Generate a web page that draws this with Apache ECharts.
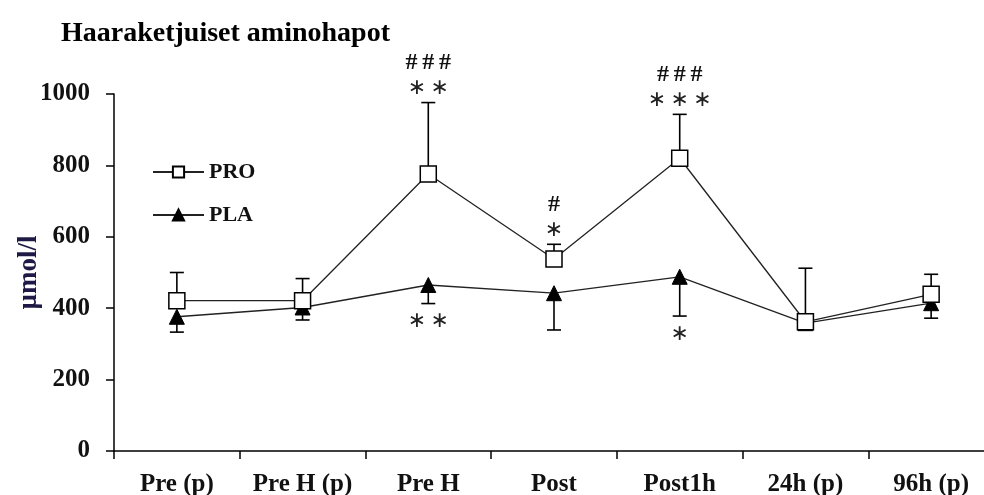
<!DOCTYPE html>
<html><head><meta charset="utf-8">
<script src="https://cdn.jsdelivr.net/npm/echarts@6/dist/echarts.min.js"></script>
<style>html,body{margin:0;padding:0;background:#fff}#c{width:984px;height:495px}</style>
</head><body><div id="c"></div>
<script>
var categories = ['Pre (p)', 'Pre H (p)', 'Pre H', 'Post', 'Post1h', '24h (p)', '96h (p)'];
var proMean = [421, 421, 776, 538, 820, 362, 439];
var proSD   = [79, 62, 200, 41, 123, 150, 56];
var plaMean = [376, 402, 465, 442, 488, 358, 414];
var plaSD   = [43, 35, 52, 103, 110, 0, 42];
var proStars = ['', '', '∗∗', '∗', '∗∗∗', '', ''];
var proHash  = ['', '', '###', '#', '###', '', ''];
var plaStars = ['', '', '∗∗', '', '∗', '', ''];
var yTicks = [0, 200, 400, 600, 800, 1000];

var SERIF = '"Liberation Serif","Times New Roman",serif';

function spaced(s) { return s.split('').join('\u2009'); }

function errData(mean, sd) {
  return categories.map(function (c, i) { return [i, mean[i], sd[i]]; });
}

function makeErr(dir, stars, hash) {
  return function (params, api) {
    var i = api.value(0), m = api.value(1), sd = api.value(2);
    var p0 = api.coord([i, m]);
    var p1 = api.coord([i, m + dir * sd]);
    var s = stars[i] || '', h = hash ? (hash[i] || '') : '';
    var children = [];
    var st = { stroke: '#000', lineWidth: 1.6 };
    if (sd > 0) {
      children.push({ type: 'line', shape: { x1: p0[0], y1: p0[1], x2: p1[0], y2: p1[1] }, style: st });
      children.push({ type: 'line', shape: { x1: p1[0] - 7, y1: p1[1], x2: p1[0] + 7, y2: p1[1] }, style: st });
    }
    if (s) {
      children.push({ type: 'text', x: p1[0], y: p1[1] - dir * (dir > 0 ? 14 : 18),
        style: { text: spaced(s), fill: '#222', font: '22px "DejaVu Sans"', align: 'center', verticalAlign: 'middle' } });
    }
    if (h) {
      children.push({ type: 'text', x: p1[0], y: p1[1] - dir * 40,
        style: { text: spaced(h), fill: '#111', font: 'bold 24px ' + SERIF, align: 'center', verticalAlign: 'middle' } });
    }
    return { type: 'group', children: children };
  };
}

var chart = echarts.init(document.getElementById('c'), null, { renderer: 'canvas' });
chart.setOption({
  animation: false,
  backgroundColor: '#fff',
  title: { text: 'Haaraketjuiset aminohapot', left: 56, top: 15,
    textStyle: { fontFamily: SERIF, fontWeight: 'bold', fontSize: 28, color: '#000' } },
  legend: {
    orient: 'vertical', left: 152, top: 161, padding: 0, itemGap: 21,
    itemWidth: 51, itemHeight: 14,
    textStyle: { fontFamily: SERIF, fontWeight: 'bold', fontSize: 22, color: '#111', padding: [0, 0, 0, 0] },
    data: ['PRO', 'PLA']
  },
  grid: { left: 114, top: 94, width: 880, height: 357, containLabel: false, outerBoundsMode: 'none' },
  xAxis: {
    type: 'category', data: categories, boundaryGap: true,
    axisLine: { lineStyle: { color: '#000', width: 1.5 } },
    axisTick: { show: true, length: 8, inside: false, interval: 0, lineStyle: { color: '#000', width: 1.5 } },
    axisLabel: { interval: 0, hideOverlap: false, margin: 21, fontFamily: SERIF, fontWeight: 'bold', fontSize: 25, color: '#111' },
    splitLine: { show: false }
  },
  yAxis: {
    type: 'value', min: 0, max: 1000, interval: 200,
    name: 'µmol/l', nameLocation: 'middle', nameGap: 71, nameRotate: 90, nameMoveOverlap: false,
    nameTextStyle: { fontFamily: SERIF, fontWeight: 'bold', fontSize: 27, color: '#1e1a45' },
    axisLine: { show: true, lineStyle: { color: '#000', width: 1.5 } },
    axisTick: { show: true, length: 8, lineStyle: { color: '#000', width: 1.5 } },
    axisLabel: { margin: 24, fontFamily: SERIF, fontWeight: 'bold', fontSize: 25, color: '#111',
      formatter: function (v) { return yTicks.indexOf(v) >= 0 ? String(v) : ''; } },
    splitLine: { show: false }
  },
  series: [
    { type: 'custom', name: 'proErr', renderItem: makeErr(1, proStars, proHash), data: errData(proMean, proSD), z: 1, silent: true },
    { type: 'custom', name: 'plaErr', renderItem: makeErr(-1, plaStars, null), data: errData(plaMean, plaSD), z: 1, silent: true },
    { type: 'line', name: 'PLA', data: plaMean, symbol: 'triangle', symbolSize: 15,
      lineStyle: { color: '#222', width: 1.3 }, itemStyle: { color: '#000', borderColor: '#000', borderWidth: 1 }, z: 3 },
    { type: 'line', name: 'PRO', data: proMean, symbol: 'rect', symbolSize: 16,
      lineStyle: { color: '#222', width: 1.3 }, itemStyle: { color: '#fff', borderColor: '#000', borderWidth: 1.5 }, z: 4 }
  ]
});
</script>
</body></html>
